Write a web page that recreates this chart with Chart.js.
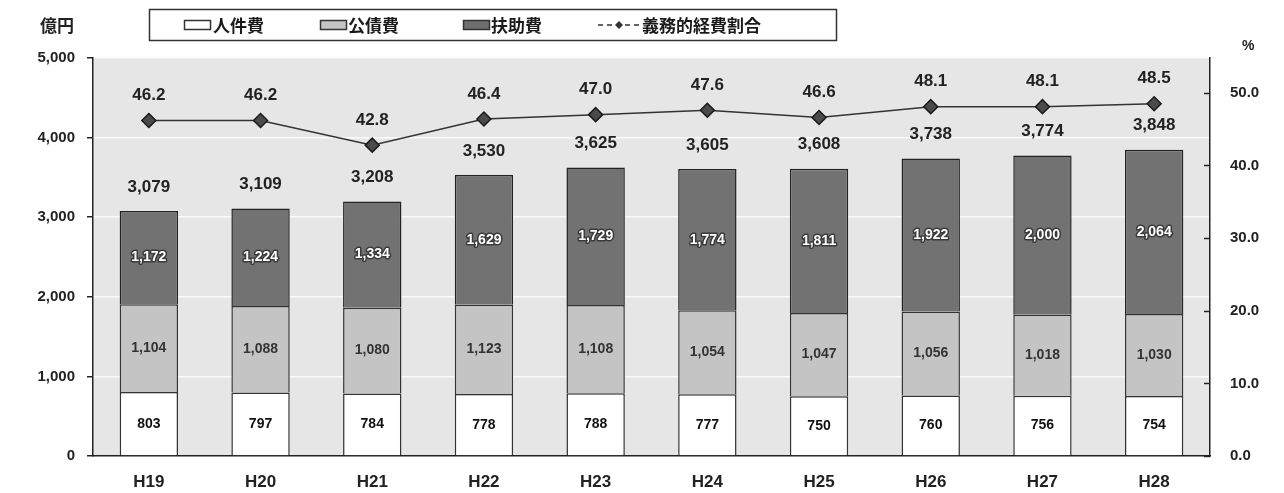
<!DOCTYPE html>
<html>
<head>
<meta charset="utf-8">
<script src="https://cdn.jsdelivr.net/npm/chart.js@4.4.1/dist/chart.umd.min.js"></script>
<style>
  html, body { margin: 0; padding: 0; background: #fff; }
  #wrap { width: 1284px; height: 493px; position: relative; }
</style>
</head>
<body>
<div id="wrap"><canvas id="myChart" width="1284" height="493"></canvas></div>
<script>
// data
const years = ['H19', 'H20', 'H21', 'H22', 'H23', 'H24', 'H25', 'H26', 'H27', 'H28'];
const personnel = [803, 797, 784, 778, 788, 777, 750, 760, 756, 754];      // 人件費
const debt = [1104, 1088, 1080, 1123, 1108, 1054, 1047, 1056, 1018, 1030];  // 公債費
const welfare = [1172, 1224, 1334, 1629, 1729, 1774, 1811, 1922, 2000, 2064]; // 扶助費
const totals = [3079, 3109, 3208, 3530, 3625, 3605, 3608, 3738, 3774, 3848];
const ratio = [46.2, 46.2, 42.8, 46.4, 47.0, 47.6, 46.6, 48.1, 48.1, 48.5]; // 義務的経費割合
const leftTicks = [0, 1000, 2000, 3000, 4000, 5000];
const rightTicks = [0, 10, 20, 30, 40, 50];

const legendNames = ['人件費', '公債費', '扶助費', '義務的経費割合'];

const numFont = '"Liberation Sans", Arial, sans-serif';
const jpFont = '"Noto Sans CJK JP", sans-serif';

const fmt = v => v.toLocaleString('en-US');

// plot background
const plotBg = {
    id: 'plotBg',
    beforeDraw(chart) {
        const { ctx, chartArea: a } = chart;
        ctx.save();
        ctx.fillStyle = '#e6e6e6';
        ctx.fillRect(a.left, a.top, a.right - a.left, a.bottom - a.top);
        ctx.restore();
    }
};

// value labels, right axis inner ticks, legend and units
const extras = {
    id: 'extras',
    afterDatasetsDraw(chart) {
        const ctx = chart.ctx;
        ctx.save();
        ctx.textAlign = 'center';
        ctx.textBaseline = 'middle';
        ctx.lineJoin = 'round';

        // segment labels
        const styles = [
            { color: '#111', stroke: null },
            { color: '#333', stroke: null },
            { color: '#fff', stroke: '#3a3a3a' }
        ];
        [0, 1, 2].forEach(d => {
            const meta = chart.getDatasetMeta(d);
            meta.data.forEach((bar, i) => {
                const y = (bar.y + bar.base) / 2;
                const txt = fmt(chart.data.datasets[d].data[i]);
                ctx.font = 'bold 14px ' + numFont;
                if (styles[d].stroke) {
                    ctx.lineWidth = 3;
                    ctx.strokeStyle = styles[d].stroke;
                    ctx.strokeText(txt, bar.x, y);
                }
                ctx.fillStyle = styles[d].color;
                ctx.fillText(txt, bar.x, y);
            });
        });

        // totals above bars
        const top = chart.getDatasetMeta(2);
        ctx.font = 'bold 17px ' + numFont;
        ctx.fillStyle = '#222';
        top.data.forEach((bar, i) => {
            ctx.fillText(fmt(totals[i]), bar.x, bar.y - 24);
        });

        // ratio labels
        const line = chart.getDatasetMeta(3);
        line.data.forEach((pt, i) => {
            ctx.fillText(ratio[i].toFixed(1), pt.x, pt.y - 25);
        });

        // inner ticks on right axis
        const y1 = chart.scales.y1;
        ctx.strokeStyle = '#222';
        ctx.lineWidth = 1.5;
        rightTicks.forEach(v => {
            const yy = Math.round(y1.getPixelForValue(v)) + 0.5;
            ctx.beginPath();
            ctx.moveTo(y1.left - 6, yy);
            ctx.lineTo(y1.left, yy);
            ctx.stroke();
        });
        ctx.restore();
    },
    afterDraw(chart) {
        const ctx = chart.ctx;
        ctx.save();
        // units
        ctx.fillStyle = '#222';
        ctx.textBaseline = 'middle';
        ctx.textAlign = 'left';
        ctx.font = 'bold 17px ' + jpFont;
        ctx.fillText('億円', 40, 26);
        ctx.font = 'bold 14px ' + numFont;
        ctx.fillText('%', 1242, 46);

        // legend box
        ctx.strokeStyle = '#333';
        ctx.lineWidth = 1.5;
        ctx.strokeRect(149.5, 9.5, 687, 31);
        const cy = 25;
        const boxes = [
            { x: 184, fill: '#fff' },
            { x: 320, fill: '#c4c4c4' },
            { x: 463, fill: '#6e6e6e' }
        ];
        boxes.forEach(b => {
            ctx.fillStyle = b.fill;
            ctx.fillRect(b.x, cy - 5, 27, 10);
            ctx.strokeRect(b.x + 0.5, cy - 4.5, 26, 9);
        });
        // line marker
        ctx.beginPath();
        ctx.setLineDash([5, 4]);
        ctx.moveTo(598, cy);
        ctx.lineTo(640, cy);
        ctx.stroke();
        ctx.setLineDash([]);
        ctx.fillStyle = '#333';
        ctx.beginPath();
        ctx.moveTo(619, cy - 4);
        ctx.lineTo(623, cy);
        ctx.lineTo(619, cy + 4);
        ctx.lineTo(615, cy);
        ctx.closePath();
        ctx.fill();

        ctx.fillStyle = '#1a1a1a';
        ctx.font = 'bold 17px ' + jpFont;
        ctx.fillText(legendNames[0], 213, cy + 1);
        ctx.fillText(legendNames[1], 348, cy + 1);
        ctx.fillText(legendNames[2], 491, cy + 1);
        ctx.fillText(legendNames[3], 642, cy + 1);
        ctx.restore();
    }
};

const ctx = document.getElementById('myChart').getContext('2d');
new Chart(ctx, {
    type: 'bar',
    data: {
        labels: years,
        datasets: [
            { label: legendNames[0], data: personnel, backgroundColor: '#ffffff', borderColor: '#333', borderWidth: 1.5, stack: 's', yAxisID: 'y', order: 2 },
            { label: legendNames[1], data: debt, backgroundColor: '#c4c4c4', borderColor: '#333', borderWidth: 1.5, stack: 's', yAxisID: 'y', order: 2 },
            { label: legendNames[2], data: welfare, backgroundColor: '#727272', borderColor: '#222', borderWidth: 1.5, stack: 's', yAxisID: 'y', order: 2 },
            {
                type: 'line', label: legendNames[3], data: ratio, yAxisID: 'y1', order: 1,
                borderColor: '#333', borderWidth: 1.5,
                pointStyle: 'rectRot', pointRadius: 7, pointBackgroundColor: '#4a4a4a',
                pointBorderColor: '#1a1a1a', pointBorderWidth: 1.5
            }
        ]
    },
    options: {
        responsive: false,
        animation: false,
        layout: { padding: { top: 58, right: 0, left: 0, bottom: 0 } },
        plugins: { legend: { display: false }, tooltip: { enabled: false } },
        datasets: { bar: { barPercentage: 0.55, categoryPercentage: 0.95 } },
        scales: {
            x: {
                stacked: true,
                grid: { display: false },
                border: { color: '#222', width: 1.5 },
                ticks: { color: '#222', font: { family: numFont, size: 17, weight: 'bold' }, padding: 8 },
                afterFit(s) { s.height = 37; }
            },
            y: {
                stacked: true,
                min: 0, max: 5000,
                afterBuildTicks(s) { s.ticks = leftTicks.map(v => ({ value: v })); },
                grid: { color: '#fafafa', lineWidth: 1.5, tickColor: '#222', tickLength: 6 },
                border: { color: '#222', width: 1.5 },
                ticks: { color: '#222', font: { family: numFont, size: 15, weight: 'bold' }, padding: 12, callback: v => fmt(v) },
                afterFit(s) { s.width = 93; }
            },
            y1: {
                position: 'right',
                min: 0, max: 54.8,
                afterBuildTicks(s) { s.ticks = rightTicks.map(v => ({ value: v })); },
                grid: { drawOnChartArea: false, drawTicks: false },
                border: { color: '#222', width: 1.5 },
                ticks: { color: '#222', font: { family: numFont, size: 15, weight: 'bold' }, padding: 20, callback: v => v.toFixed(1) },
                afterFit(s) { s.width = 74; }
            }
        }
    },
    plugins: [plotBg, extras]
});
</script>
</body>
</html>
